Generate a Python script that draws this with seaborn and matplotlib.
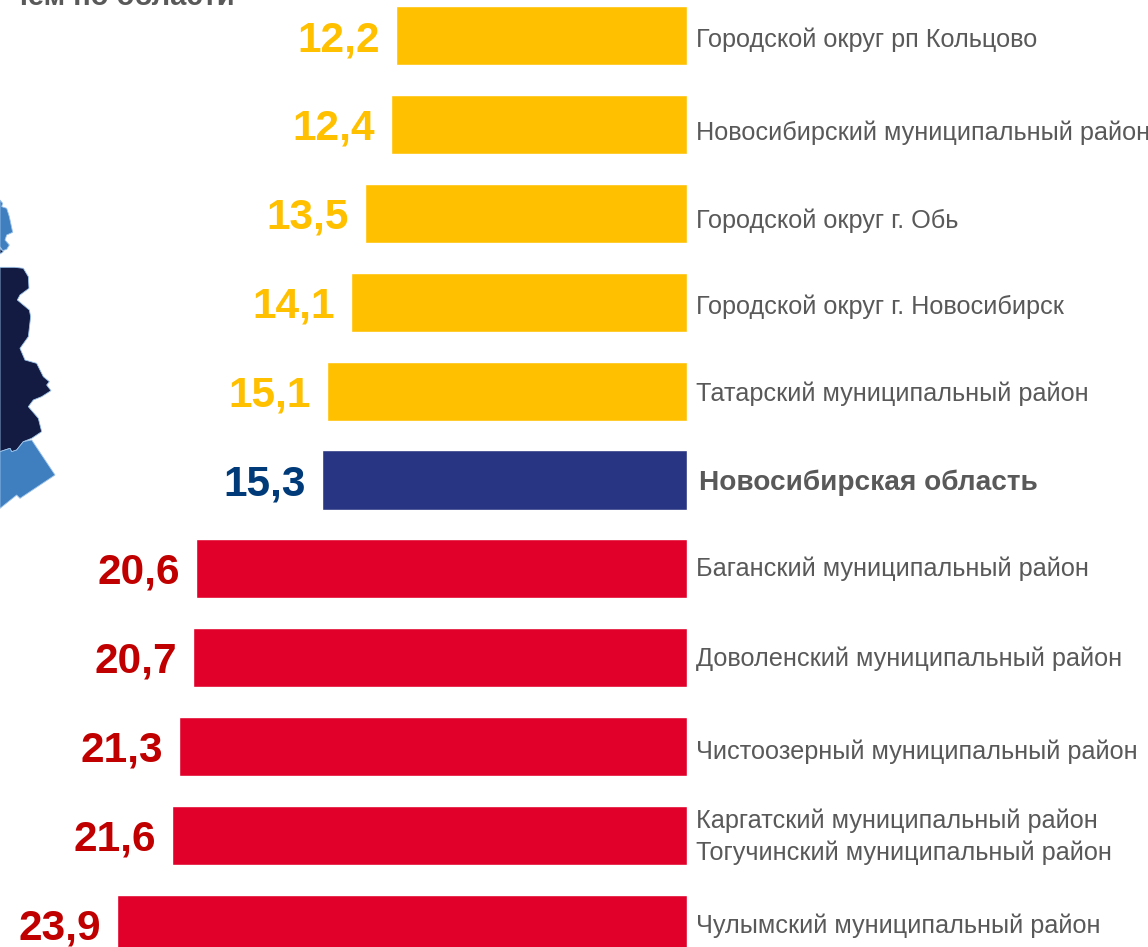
import matplotlib
matplotlib.use("Agg")
import matplotlib.pyplot as plt
import pandas as pd
import seaborn as sns

# - Data -
districts = ["Городской округ рп Кольцово", "Новосибирский муниципальный район",
             "Городской округ г. Обь", "Городской округ г. Новосибирск",
             "Татарский муниципальный район", "Новосибирская область",
             "Баганский муниципальный район", "Доволенский муниципальный район",
             "Чистоозерный муниципальный район",
             "Каргатский муниципальный район\nТогучинский муниципальный район",
             "Чулымский муниципальный район"]
values = [12.2, 12.4, 13.5, 14.1, 15.1, 15.3, 20.6, 20.7, 21.3, 21.6, 23.9]
groups = ["low", "low", "low", "low", "low", "region",
          "high", "high", "high", "high", "high"]

# - Colours -
bar_colors = {"low": "#FFC000", "region": "#283583", "high": "#E1002A"}
value_colors = {"low": "#FFC000", "region": "#003A78", "high": "#C00000"}
text_gray = "#595959"

# - Scale of the picture in pixels -
W, H = 1148, 947
zero_px = 687
px_per_unit = 23.85
first_row_px = 36
row_step_px = 88.8
bar_height_px = 59
label_y_px = [40, 133, 221, 307, 394, 483, 569, 659, 752, 837, 926]

# - Map pieces, cut by the left edge -
map_top = [(0, 60), (8, 70), (5, 80), (20, 85), (28, 110), (38, 157), (20, 165),
           (15, 180), (28, 195), (20, 208), (8, 212), (0, 200)]
map_sliver = [(0, 205), (10, 215), (0, 222)]
map_dark = [(0, 262), (45, 262), (70, 265), (85, 290), (87, 325), (60, 345), (52, 360),
            (88, 390), (92, 410), (85, 470), (60, 505), (75, 540), (110, 550), (130, 590),
            (148, 605), (140, 615), (153, 632), (125, 650), (100, 660), (85, 680),
            (115, 715), (125, 755), (95, 775), (70, 785), (50, 810), (35, 815),
            (30, 805), (0, 815)]
map_low = [(0, 815), (30, 805), (35, 815), (50, 810), (70, 785), (95, 780), (165, 885),
           (60, 955), (50, 945), (0, 985)]

sns.set_theme(style="white")
plt.rcParams["font.family"] = ["Liberation Sans", "DejaVu Sans"]

fig = plt.figure(figsize=(W / 100, H / 100), dpi=100, facecolor="white")
ax = fig.add_axes([0, 0, 1, 1])

df = pd.DataFrame({"district": districts, "value": values, "group": groups})
sns.barplot(data=df, y="district", x="value", hue="group", palette=bar_colors,
            dodge=False, width=bar_height_px / row_step_px, saturation=1,
            legend=False, ax=ax)
ax.set_xlim(zero_px / px_per_unit, (zero_px - W) / px_per_unit)
ax.set_ylim((H - first_row_px) / row_step_px, -first_row_px / row_step_px)
ax.axis("off")

# - Value labels, moved down a little -
for container, group in zip(ax.containers, ["low", "region", "high"]):
    anns = ax.bar_label(container, fmt=lambda v: f"{v:.1f}".replace(".", ","), padding=11.5,
                        fontsize=30.5, fontweight="bold", color=value_colors[group])
    for ann in anns:
        ann.xyann = (ann.xyann[0], ann.xyann[1] - 3)

# - Overlay in pixel coordinates for the map and the text -
over = fig.add_axes([0, 0, 1, 1], facecolor="none")
over.set_xlim(0, W)
over.set_ylim(H, 0)
over.axis("off")
for piece, color in [(map_top, "#3F7FBF"), (map_sliver, "#141B42"),
                     (map_dark, "#141B42"), (map_low, "#3F7FBF")]:
    over.fill([p[0] / 3 for p in piece], [p[1] / 3 + 180 for p in piece],
              facecolor=color, edgecolor="#9CC3EA", linewidth=0.6)

for name, y, group in zip(districts, label_y_px, groups):
    if group == "region":
        over.text(699, y, name, va="center", ha="left", fontsize=20.2,
                  fontweight="bold", color=text_gray)
    else:
        over.text(696, y, name, va="center", ha="left", fontsize=18.15,
                  color=text_gray, linespacing=1.36)

over.text(235, 5, "чем по области", va="baseline", ha="right", fontsize=21,
          fontweight="bold", color=text_gray)

fig.savefig("out.png", dpi=100)
